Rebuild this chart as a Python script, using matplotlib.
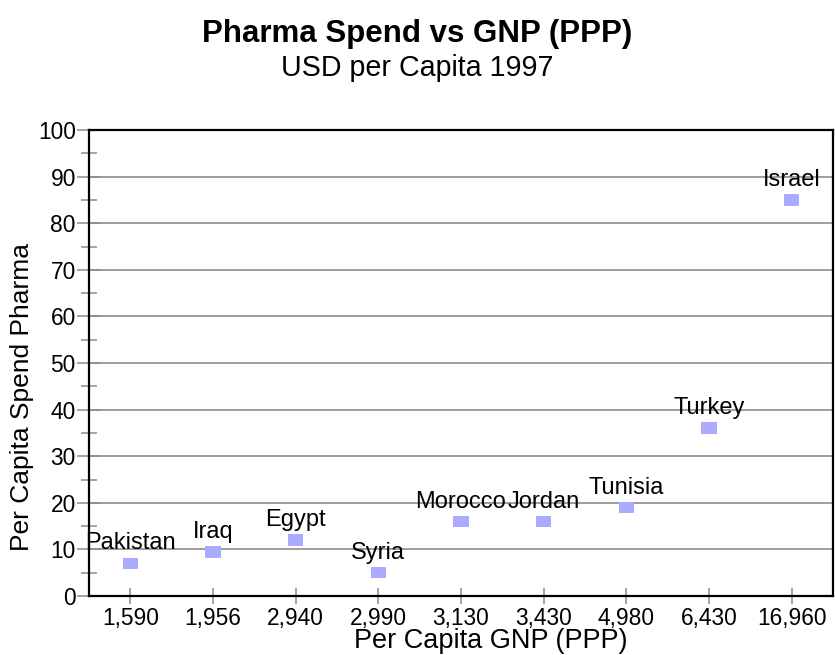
import matplotlib
matplotlib.use("Agg")
import matplotlib.pyplot as plt
from matplotlib.ticker import MultipleLocator

plt.rcParams['font.family'] = ['Liberation Sans', 'DejaVu Sans']

countries = ["Pakistan", "Iraq", "Egypt", "Syria", "Morocco", "Jordan", "Tunisia", "Turkey", "Israel"]
gnp_labels = ["1,590", "1,956", "2,940", "2,990", "3,130", "3,430", "4,980", "6,430", "16,960"]
pharma_spend = [7, 9.5, 12, 5, 16, 16, 19, 36, 85]

W, H = 835, 655
fig = plt.figure(figsize=(W / 100, H / 100), dpi=100)
ax = fig.add_axes([89 / W, 59 / H, 744 / W, 466 / H])

# flat rectangular markers, a little wider than tall
rect = [(-1, -0.77), (1, -0.77), (1, 0.77), (-1, 0.77), (-1, -0.77)]

x = list(range(len(countries)))
ax.scatter(x, pharma_spend, marker=rect, s=117, color='#aaaaff', edgecolors='none', zorder=3)

for xi, yi, name in zip(x, pharma_spend, countries):
    ax.annotate(name, (xi, yi), xytext=(0, 10), textcoords='offset points',
                ha='center', va='baseline', fontsize=17, color='black', zorder=4)

ax.set_xlim(-0.5, len(countries) - 0.5)
ax.set_ylim(0, 100)
ax.set_xticks(x)
ax.set_xticklabels(gnp_labels)
ax.yaxis.set_major_locator(MultipleLocator(10))
ax.yaxis.set_minor_locator(MultipleLocator(5))
ax.grid(axis='y', which='major', color='#8c8c8c', linewidth=1.2, zorder=1)

for side in ax.spines.values():
    side.set_color('black')
    side.set_linewidth(1.6)
    side.set_zorder(1.6)

ax.tick_params(axis='both', which='major', labelsize=16.4, color='#8c8c8c', width=1.1,
               direction='inout')
ax.tick_params(axis='y', which='major', length=17, pad=1)
ax.tick_params(axis='y', which='minor', color='#8c8c8c', width=1.1, direction='inout', length=11.5)
ax.tick_params(axis='x', which='major', length=11, pad=2.5)

ax.set_xlabel("Per Capita GNP (PPP)", fontsize=19.5, va='baseline')
ax.xaxis.set_label_coords((491 - 89) / 744, -(648 - 596) / 466)
ax.set_ylabel("Per Capita Spend Pharma", fontsize=19, va='center')
ax.yaxis.set_label_coords((22 - 89) / 744, (596 - 397) / 466)

fig.text(0.5, 1 - 42 / H, "Pharma Spend vs GNP (PPP)", ha='center', va='baseline',
         fontsize=22.5, fontweight='bold')
fig.text(0.5, 1 - 76 / H, "USD per Capita 1997", ha='center', va='baseline', fontsize=20.6)

fig.savefig("out.png", dpi=100)
